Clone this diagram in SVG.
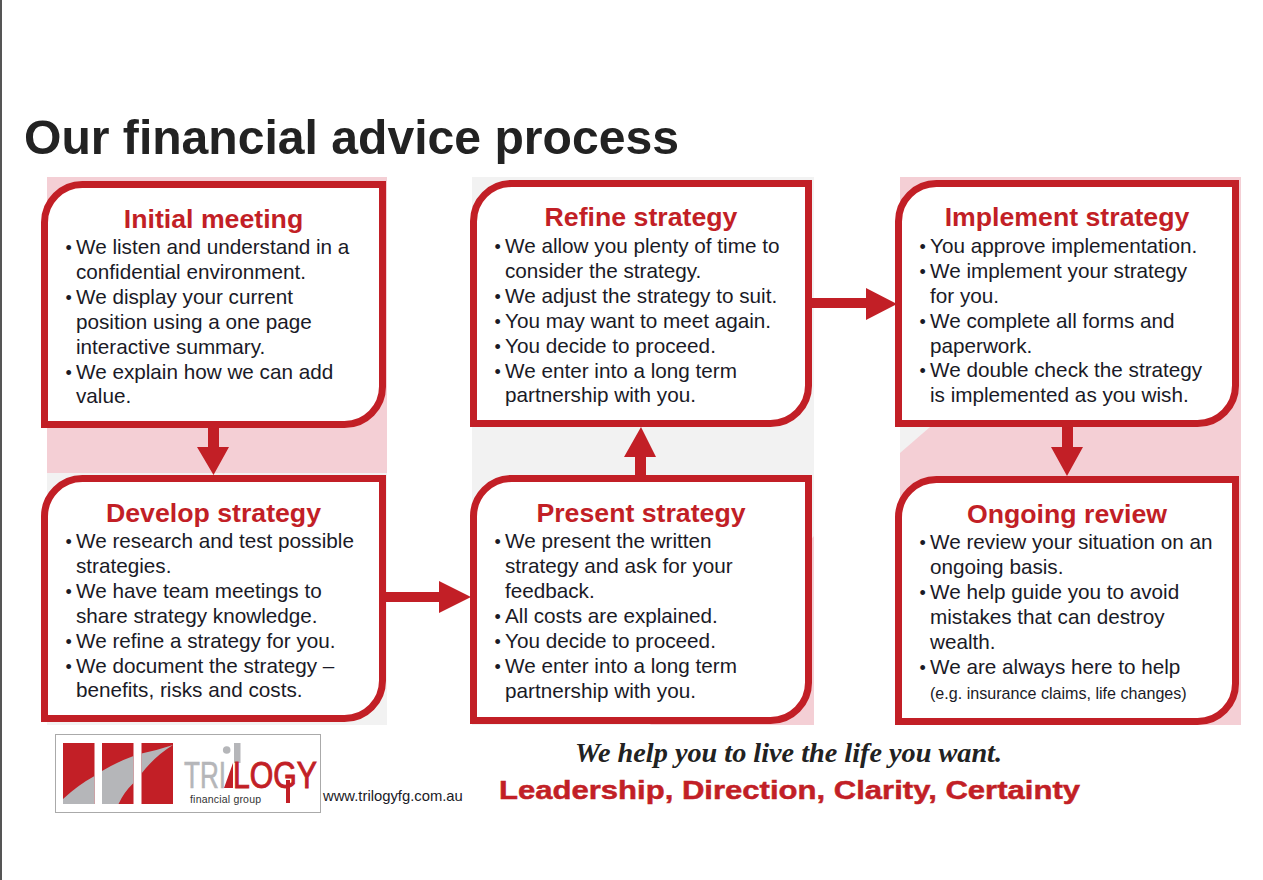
<svg xmlns="http://www.w3.org/2000/svg" width="1263" height="880" viewBox="0 0 1263 880">
<style>
text{font-family:"Liberation Sans",Arial,sans-serif;fill:#1a1a26}
.b{font-size:20.700px}
.d{font-size:18px}
.t{font-size:26.700px;font-weight:bold;fill:#c21f26;text-anchor:middle}
.box{fill:#fff;stroke:#c21f26;stroke-width:7}
.c{fill:#c21f26}
.g{fill:#b5b6b9}
</style>
<rect width="1263" height="880" fill="#fff"/>
<rect x="0" y="0" width="2" height="880" fill="#555"/>
<text x="24" y="154" style="font-size:48.100px;font-weight:bold;fill:#222">Our financial advice process</text>
<g id="panels">
<rect x="47" y="177" width="340" height="296" fill="#f4cfd5"/>
<rect x="47" y="473" width="340" height="252" fill="#f2f2f2"/>
<rect x="472" y="177" width="342" height="548" fill="#f2f2f2"/>
<path d="M650 725L814 725L814 536Z" fill="#f4cfd5"/>
<rect x="900" y="177" width="341" height="548" fill="#f4cfd5"/>
<path d="M900 427H930L900 453Z" fill="#f2f2f2"/>
</g>
<g id="connectors">
<path class="c" d="M208 428H219V447H229L213.500 475L197 447H208Z"/>
<path class="c" d="M386 592H439V581L471 597L439 613V602H386Z"/>
<path class="c" d="M635 475V457H624L641 427L656 457H646V475Z"/>
<path class="c" d="M812 298H866V288L897 304L866 320V308H812Z"/>
<path class="c" d="M1062 427H1073V447H1083L1067 476L1051 447H1062Z"/>
</g>
<g id="initial-meeting">
<path class="box" d="M83.500 184.500H382.500V386A38 38 0 0 1 344.500 424.500H44.500V223A38 38 0 0 1 83.500 184.500Z"/>
<text class="t" x="213.500" y="228">Initial meeting</text>
<text class="b" x="76" y="254">We listen and understand in a</text>
<text class="b" x="76" y="278.500">confidential environment.</text>
<text class="b" x="76" y="304">We display your current</text>
<text class="b" x="76" y="329">position using a one page</text>
<text class="b" x="76" y="354">interactive summary.</text>
<text class="b" x="76" y="379">We explain how we can add</text>
<text class="b" x="76" y="403">value.</text>
<text class="d" x="65.500" y="254">•</text><text class="d" x="65.500" y="304">•</text><text class="d" x="65.500" y="379">•</text>
</g>
<g id="develop-strategy">
<path class="box" d="M83.500 478.500H382.500V680A38 38 0 0 1 344.500 718.500H44.500V517A38 38 0 0 1 83.500 478.500Z"/>
<text class="t" x="213.500" y="522">Develop strategy</text>
<text class="b" x="76" y="548">We research and test possible</text>
<text class="b" x="76" y="573">strategies.</text>
<text class="b" x="76" y="598">We have team meetings to</text>
<text class="b" x="76" y="623">share strategy knowledge.</text>
<text class="b" x="76" y="648">We refine a strategy for you.</text>
<text class="b" x="76" y="673">We document the strategy –</text>
<text class="b" x="76" y="697">benefits, risks and costs.</text>
<text class="d" x="65.500" y="548">•</text><text class="d" x="65.500" y="598">•</text><text class="d" x="65.500" y="648">•</text><text class="d" x="65.500" y="673">•</text>
</g>
<g id="present-strategy">
<path class="box" d="M512 478.500H808.500V682A38 38 0 0 1 770.500 720.500H473.500V517A38 38 0 0 1 512 478.500Z"/>
<text class="t" x="641" y="522">Present strategy</text>
<text class="b" x="505" y="548">We present the written</text>
<text class="b" x="505" y="573">strategy and ask for your</text>
<text class="b" x="505" y="598">feedback.</text>
<text class="b" x="505" y="623">All costs are explained.</text>
<text class="b" x="505" y="648">You decide to proceed.</text>
<text class="b" x="505" y="673">We enter into a long term</text>
<text class="b" x="505" y="698">partnership with you.</text>
<text class="d" x="494.500" y="548">•</text><text class="d" x="494.500" y="623">•</text><text class="d" x="494.500" y="648">•</text><text class="d" x="494.500" y="673">•</text>
</g>
<g id="refine-strategy">
<path class="box" d="M512 183.500H808.500V385A38 38 0 0 1 770.500 423.500H473.500V222A38 38 0 0 1 512 183.500Z"/>
<text class="t" x="641" y="226">Refine strategy</text>
<text class="b" x="505" y="253">We allow you plenty of time to</text>
<text class="b" x="505" y="278">consider the strategy.</text>
<text class="b" x="505" y="303">We adjust the strategy to suit.</text>
<text class="b" x="505" y="328">You may want to meet again.</text>
<text class="b" x="505" y="353">You decide to proceed.</text>
<text class="b" x="505" y="378">We enter into a long term</text>
<text class="b" x="505" y="402">partnership with you.</text>
<text class="d" x="494.500" y="253">•</text><text class="d" x="494.500" y="303">•</text><text class="d" x="494.500" y="328">•</text><text class="d" x="494.500" y="353">•</text><text class="d" x="494.500" y="378">•</text>
</g>
<g id="implement-strategy">
<path class="box" d="M937 183.500H1235.500V385A38 38 0 0 1 1197.500 423.500H898.500V222A38 38 0 0 1 937 183.500Z"/>
<text class="t" x="1067" y="226">Implement strategy</text>
<text class="b" x="930" y="253">You approve implementation.</text>
<text class="b" x="930" y="278">We implement your strategy</text>
<text class="b" x="930" y="303">for you.</text>
<text class="b" x="930" y="328">We complete all forms and</text>
<text class="b" x="930" y="353">paperwork.</text>
<text class="b" x="930" y="377">We double check the strategy</text>
<text class="b" x="930" y="402">is implemented as you wish.</text>
<text class="d" x="919.500" y="253">•</text><text class="d" x="919.500" y="278">•</text><text class="d" x="919.500" y="328">•</text><text class="d" x="919.500" y="377">•</text>
</g>
<g id="ongoing-review">
<path class="box" d="M937 479.500H1235.500V683A38 38 0 0 1 1197.500 721.500H898.500V518A38 38 0 0 1 937 479.500Z"/>
<text class="t" x="1067" y="523">Ongoing review</text>
<text class="b" x="930" y="549">We review your situation on an</text>
<text class="b" x="930" y="574">ongoing basis.</text>
<text class="b" x="930" y="599">We help guide you to avoid</text>
<text class="b" x="930" y="624">mistakes that can destroy</text>
<text class="b" x="930" y="649">wealth.</text>
<text class="b" x="930" y="674">We are always here to help</text>
<text x="930" y="699" style="font-size:16.100px">(e.g. insurance claims, life changes)</text>
<text class="d" x="919.500" y="549">•</text><text class="d" x="919.500" y="599">•</text><text class="d" x="919.500" y="674">•</text>
</g>
<g id="logo">
<rect x="55.500" y="734.500" width="265" height="78" fill="#fff" stroke="#aaa"/>
<rect x="63" y="743" width="31.500" height="61" class="c"/>
<rect x="102" y="743" width="31.500" height="61" class="c"/>
<rect x="141.500" y="743" width="31.500" height="61" class="c"/>
<path class="g" d="M63 799Q78 785 94.500 776V804H63Z"/>
<path class="g" d="M102 771Q117 762 133.500 756V783Q124 792 118.500 804H102Z"/>
<path class="g" d="M141.500 753.500Q158 750 173 745Q155 756 141.500 773.500Z"/>
<text x="184" y="788" textLength="42" lengthAdjust="spacingAndGlyphs" style="font-size:36px;fill:#b5b6b9;stroke:#b5b6b9;stroke-width:.6">TRI</text>
<circle class="g" cx="226.700" cy="750" r="3.800"/>
<path class="c" d="M233 763L224 788H233Z"/>
<rect class="g" x="234" y="743" width="6.500" height="20"/>
<text x="233" y="788" textLength="84" lengthAdjust="spacingAndGlyphs" style="font-size:37px;fill:#c21f26;stroke:#c21f26;stroke-width:1">LOGY</text>
<rect class="c" x="286" y="780" width="4" height="23"/>
<text x="190" y="803" textLength="71" lengthAdjust="spacing" style="font-size:10.500px;fill:#333">financial group</text>
</g>
<text x="323" y="801" style="font-size:14.800px">www.trilogyfg.com.au</text>
<text x="575" y="762" textLength="427" lengthAdjust="spacingAndGlyphs" style="font-family:'Liberation Serif',serif;font-size:27px;font-style:italic;font-weight:bold;fill:#222">We help you to live the life you want.</text>
<text x="499" y="799" textLength="581" lengthAdjust="spacingAndGlyphs" style="font-size:26.500px;font-weight:bold;fill:#c21f26;stroke:#c21f26;stroke-width:.5">Leadership, Direction, Clarity, Certainty</text>
</svg>
